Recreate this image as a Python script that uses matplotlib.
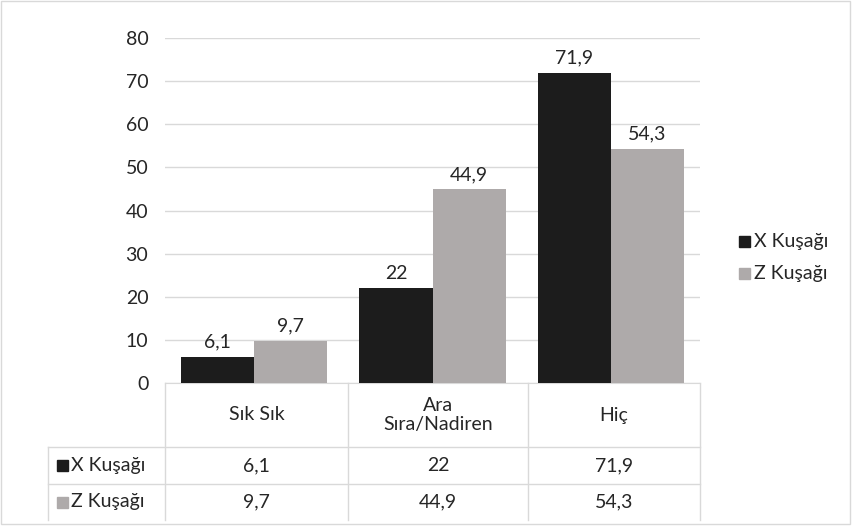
import matplotlib.pyplot as plt
from matplotlib.lines import Line2D
from matplotlib.patches import Rectangle
import numpy as np

categories = ["Sık Sık", "Ara\nSıra/Nadiren", "Hiç"]
series_names = ["X Kuşağı", "Z Kuşağı"]
x_vals = [6.1, 22, 71.9]
z_vals = [9.7, 44.9, 54.3]
colors = ["#1c1c1c", "#aeaaaa"]

W, H = 852, 526
plt.rcParams['font.family'] = ['Lato', 'DejaVu Sans']
FS = 14
TXT = "#262626"


def fx(x):
    return x / W


def fy(y):
    return 1 - y / H


fig = plt.figure(figsize=(W / 100, H / 100), dpi=100)
ax = fig.add_axes([fx(165), fy(383), fx(700) - fx(165), fy(38) - fy(383)])

idx = np.arange(len(categories))
bw = 0.41
for k, (vals, c) in enumerate(zip([x_vals, z_vals], colors)):
    pos = idx + (k - 0.5) * bw
    bars = ax.bar(pos, vals, width=bw, color=c, zorder=3)
    for b, v in zip(bars, vals):
        ax.text(b.get_x() + b.get_width() / 2, v + 1.5, f"{v:g}".replace(".", ","),
                ha="center", va="bottom", fontsize=FS, color=TXT)

ax.set_xlim(-0.5, len(categories) - 0.5)
ax.set_ylim(0, 80)
ax.set_yticks(range(0, 81, 10))
ax.set_xticks([])
ax.grid(axis="y", color="#d9d9d9", linewidth=1, zorder=0)
for s in ["top", "right", "left"]:
    ax.spines[s].set_visible(False)
ax.spines["bottom"].set_color("#d9d9d9")
ax.tick_params(axis="y", length=0, labelsize=FS, labelcolor=TXT, pad=12)

# data table below the axes
grid_c = "#d9d9d9"
col_x = [165, 348, 528, 700]
row_y = [383, 447, 484, 520]
for x in col_x:
    fig.add_artist(Line2D([fx(x), fx(x)], [fy(row_y[0]), fy(row_y[-1])], color=grid_c, lw=1))
fig.add_artist(Line2D([fx(48), fx(48)], [fy(row_y[1]), fy(row_y[-1])], color=grid_c, lw=1))
for y in row_y[1:3]:
    fig.add_artist(Line2D([fx(48), fx(700)], [fy(y), fy(y)], color=grid_c, lw=1))

for j, cat in enumerate(categories):
    cx = (col_x[j] + col_x[j + 1]) / 2
    fig.text(fx(cx), fy((row_y[0] + row_y[1]) / 2), cat, ha="center", va="center",
             fontsize=FS, linespacing=1.2, color=TXT)
    for r, vals in enumerate([x_vals, z_vals]):
        cy = (row_y[r + 1] + row_y[r + 2]) / 2
        fig.text(fx(cx), fy(cy), f"{vals[j]:g}".replace(".", ","), ha="center", va="center",
                 fontsize=FS, color=TXT)

for r, (name, c) in enumerate(zip(series_names, colors)):
    cy = (row_y[r + 1] + row_y[r + 2]) / 2
    fig.add_artist(Rectangle((fx(57), fy(cy + 5.5)), fx(11), fy(cy - 5.5) - fy(cy + 5.5), color=c))
    fig.text(fx(71), fy(cy), name, ha="left", va="center", fontsize=FS, color=TXT)

# legend
for r, (name, c) in enumerate(zip(series_names, colors)):
    cy = 241 + r * 32
    fig.add_artist(Rectangle((fx(739), fy(cy + 5.5)), fx(11), fy(cy - 5.5) - fy(cy + 5.5), color=c))
    fig.text(fx(754), fy(cy), name, ha="left", va="center", fontsize=FS, color=TXT)

# outer chart frame
fig.add_artist(Rectangle((fx(1), fy(524)), fx(849), fy(1) - fy(524), fill=False,
                         edgecolor="#d9d9d9", lw=1))

fig.savefig("out.png", dpi=100)
